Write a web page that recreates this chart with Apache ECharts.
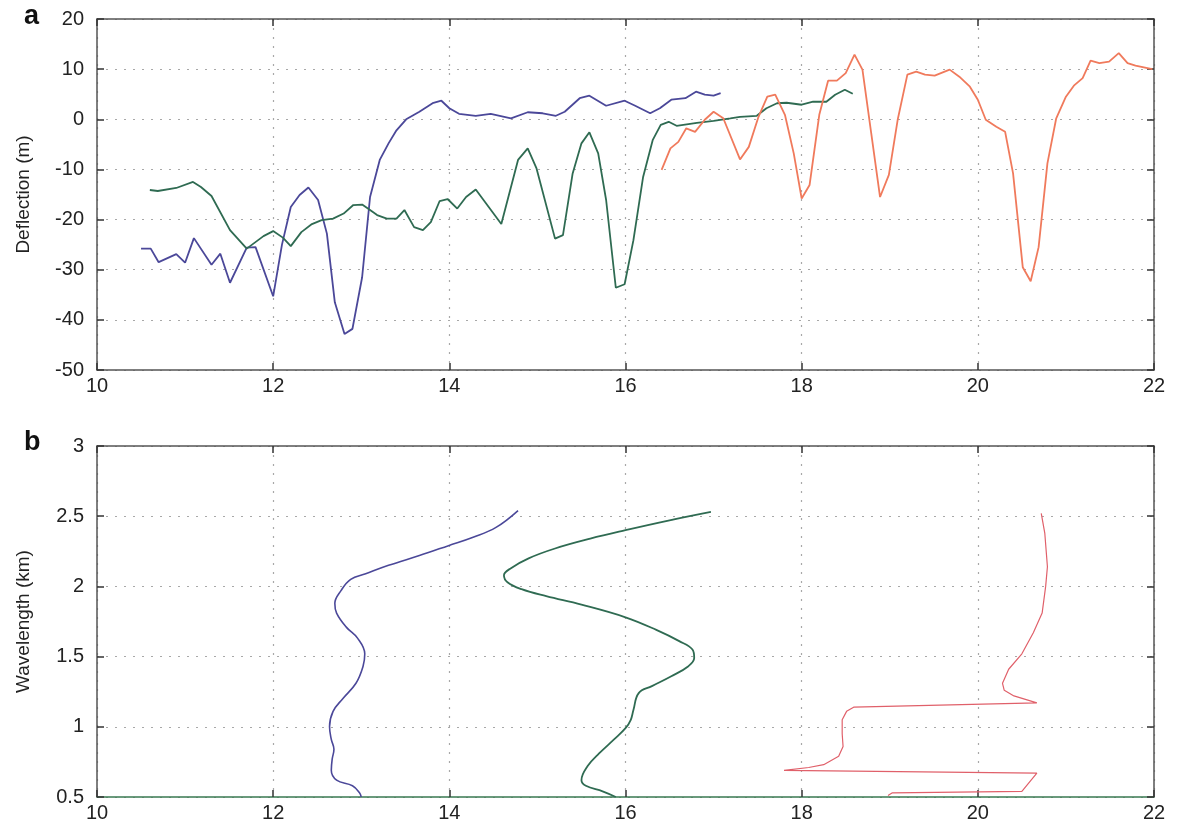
<!DOCTYPE html>
<html>
<head>
<meta charset="utf-8">
<script src="https://cdn.jsdelivr.net/npm/echarts@6/dist/echarts.min.js"></script>
<style>
  html, body { margin: 0; padding: 0; background: #fff; }
  #chart { width: 1178px; height: 829px; }
</style>
</head>
<body>
<div id="chart"></div>
<script>
// panel a: deflection (m) against distance, [x, y]
const deflBlue = [
  [10.50, -25.8], [10.61, -25.8], [10.70, -28.5], [10.90, -26.9], [11.00, -28.6], [11.10, -23.7],
  [11.30, -29.0], [11.40, -26.8], [11.51, -32.6], [11.70, -25.6], [11.80, -25.5], [12.00, -35.3],
  [12.10, -25.0], [12.20, -17.5], [12.30, -15.1], [12.40, -13.6], [12.51, -16.1], [12.61, -22.8],
  [12.70, -36.5], [12.81, -42.8], [12.90, -41.8], [13.01, -31.5], [13.10, -15.5], [13.21, -8.1],
  [13.31, -4.8], [13.40, -2.2], [13.51, 0.0], [13.66, 1.5], [13.81, 3.2], [13.91, 3.7],
  [14.00, 2.2], [14.11, 1.1], [14.30, 0.7], [14.47, 1.1], [14.70, 0.2], [14.89, 1.4],
  [15.06, 1.2], [15.21, 0.7], [15.31, 1.5], [15.48, 4.2], [15.59, 4.7], [15.78, 2.7],
  [15.99, 3.7], [16.11, 2.7], [16.28, 1.2], [16.39, 2.2], [16.52, 3.9], [16.68, 4.2],
  [16.80, 5.5], [16.90, 4.9], [17.00, 4.7], [17.08, 5.2]
];
const deflGreen = [
  [10.60, -14.1], [10.69, -14.3], [10.90, -13.7], [11.09, -12.5], [11.18, -13.5], [11.30, -15.3],
  [11.51, -22.1], [11.70, -25.8], [11.89, -23.3], [12.00, -22.3], [12.11, -23.6], [12.20, -25.3],
  [12.32, -22.5], [12.44, -20.9], [12.55, -20.1], [12.68, -19.8], [12.80, -18.8], [12.91, -17.1],
  [13.01, -17.0], [13.10, -18.1], [13.18, -19.1], [13.29, -19.8], [13.40, -19.8], [13.49, -18.1],
  [13.60, -21.5], [13.70, -22.1], [13.79, -20.5], [13.89, -16.3], [13.98, -15.9], [14.09, -17.8],
  [14.19, -15.5], [14.30, -14.0], [14.59, -20.9], [14.78, -8.1], [14.89, -5.8], [14.99, -9.8],
  [15.20, -23.8], [15.29, -23.1], [15.40, -10.8], [15.50, -4.8], [15.59, -2.6], [15.69, -6.8],
  [15.78, -16.1], [15.89, -33.6], [15.99, -32.9], [16.09, -24.1], [16.20, -11.5], [16.31, -4.1],
  [16.40, -1.1], [16.49, -0.5], [16.58, -1.3], [16.81, -0.7], [17.00, -0.3], [17.19, 0.2],
  [17.30, 0.5], [17.49, 0.7], [17.60, 2.2], [17.72, 3.2], [17.83, 3.3], [18.00, 2.9],
  [18.13, 3.5], [18.28, 3.5], [18.38, 4.9], [18.49, 5.9], [18.58, 5.1]
];
const deflRed = [
  [16.41, -10.1], [16.51, -5.8], [16.60, -4.5], [16.69, -1.8], [16.79, -2.5], [16.90, -0.1],
  [17.00, 1.5], [17.11, 0.2], [17.30, -8.0], [17.40, -5.5], [17.51, 0.5], [17.61, 4.5],
  [17.70, 4.9], [17.81, 0.9], [17.91, -6.8], [18.00, -15.8], [18.09, -13.1], [18.20, 0.9],
  [18.30, 7.7], [18.40, 7.7], [18.50, 9.2], [18.60, 12.9], [18.69, 9.9], [18.79, -2.8],
  [18.89, -15.5], [18.99, -11.1], [19.09, -0.1], [19.20, 8.9], [19.30, 9.5], [19.40, 8.9],
  [19.51, 8.7], [19.68, 9.9], [19.79, 8.5], [19.91, 6.5], [20.00, 3.9], [20.09, -0.1],
  [20.21, -1.5], [20.31, -2.5], [20.40, -10.8], [20.51, -29.5], [20.60, -32.3], [20.69, -25.5],
  [20.79, -8.8], [20.89, 0.2], [21.00, 4.5], [21.09, 6.7], [21.19, 8.2], [21.28, 11.7],
  [21.38, 11.2], [21.49, 11.5], [21.60, 13.2], [21.70, 11.2], [21.79, 10.7], [21.98, 10.0]
];

// panel b: wavelength (km) against distance, [x, y]
const waveBlue = [
  [14.78, 2.54], [14.53, 2.42], [14.27, 2.35], [13.99, 2.29], [13.66, 2.22], [13.31, 2.15],
  [13.05, 2.09], [12.88, 2.05], [12.77, 1.97], [12.70, 1.88], [12.72, 1.81], [12.83, 1.71],
  [12.96, 1.63], [13.04, 1.52], [13.02, 1.43], [12.94, 1.31], [12.79, 1.20], [12.68, 1.11],
  [12.64, 1.00], [12.66, 0.91], [12.69, 0.84], [12.67, 0.77], [12.66, 0.69], [12.72, 0.62],
  [12.90, 0.58], [12.98, 0.53], [13.00, 0.50]
];
const waveGreen = [
  [16.97, 2.53], [16.50, 2.47], [16.00, 2.40], [15.60, 2.34], [15.20, 2.27], [14.90, 2.20],
  [14.70, 2.13], [14.62, 2.08], [14.66, 2.03], [14.82, 1.98], [15.10, 1.93], [15.50, 1.87],
  [16.00, 1.78], [16.35, 1.69], [16.61, 1.61], [16.76, 1.55], [16.78, 1.49], [16.71, 1.43],
  [16.52, 1.36], [16.30, 1.29], [16.15, 1.24], [16.09, 1.12], [16.06, 1.05], [16.00, 0.99],
  [15.87, 0.91], [15.70, 0.81], [15.57, 0.72], [15.50, 0.62], [15.55, 0.58], [15.74, 0.54],
  [15.89, 0.50]
];
const waveRed = [
  [20.72, 2.52], [20.76, 2.38], [20.79, 2.14], [20.77, 2.00], [20.73, 1.81], [20.63, 1.67],
  [20.50, 1.52], [20.35, 1.41], [20.28, 1.31], [20.30, 1.26], [20.41, 1.22], [20.67, 1.17],
  [18.59, 1.14], [18.51, 1.11], [18.46, 1.05], [18.46, 0.95], [18.47, 0.86], [18.42, 0.79],
  [18.25, 0.73], [18.08, 0.71], [17.80, 0.69], [20.67, 0.67], [20.50, 0.54], [19.03, 0.53],
  [18.98, 0.51]
];

const FONT = "'Liberation Sans', Arial, sans-serif";
const chart = echarts.init(document.getElementById("chart"), null, { renderer: "canvas" });

const gridDots = { show: true, lineStyle: { color: "#a8a8a8", type: [2, 7], width: 1.2 } };
const labelStyle = { color: "#222", fontSize: 20, fontFamily: FONT };

function xAxes(gridIndex, baseColor) {
  return [
    {
      type: "value", gridIndex, min: 10, max: 22, interval: 2, position: "bottom",
      axisLine: { show: true, onZero: false, lineStyle: { color: baseColor, width: 1.5 } },
      axisTick: { show: true, inside: true, length: 7, lineStyle: { color: "#333", width: 1.5 } },
      axisLabel: { ...labelStyle, margin: 6 },
      splitLine: gridDots
    },
    {
      type: "value", gridIndex, min: 10, max: 22, interval: 2, position: "top",
      axisLine: { show: true, onZero: false, lineStyle: { color: "#555", width: 1.5 } },
      axisTick: { show: true, inside: true, length: 7, lineStyle: { color: "#333", width: 1.5 } },
      axisLabel: { show: false },
      splitLine: { show: false }
    }
  ];
}

function yAxes(gridIndex, min, max, interval, name, fmt) {
  return [
    {
      type: "value", gridIndex, min, max, interval, position: "left",
      name, nameLocation: "middle", nameGap: 64, nameRotate: 90,
      nameTextStyle: { color: "#222", fontSize: 19, fontFamily: FONT },
      axisLine: { show: true, onZero: false, lineStyle: { color: "#555", width: 1.5 } },
      axisTick: { show: true, inside: true, length: 7, lineStyle: { color: "#333", width: 1.5 } },
      axisLabel: { ...labelStyle, margin: 13, formatter: fmt },
      splitLine: gridDots
    },
    {
      type: "value", gridIndex, min, max, interval, position: "right",
      axisLine: { show: true, onZero: false, lineStyle: { color: "#555", width: 1.5 } },
      axisTick: { show: true, inside: true, length: 7, lineStyle: { color: "#333", width: 1.5 } },
      axisLabel: { show: false },
      splitLine: { show: false }
    }
  ];
}

function line(data, color, xi, yi, width, smooth) {
  return {
    type: "line", data, xAxisIndex: xi, yAxisIndex: yi,
    showSymbol: false, smooth, animation: false,
    lineStyle: { color, width }
  };
}

const option = {
  backgroundColor: "#fff",
  animation: false,
  textStyle: { fontFamily: FONT },
  title: [
    { text: "a", left: 19, top: -2, textStyle: { fontSize: 27, fontWeight: "bold", color: "#111", fontFamily: FONT } },
    { text: "b", left: 19, top: 424, textStyle: { fontSize: 27, fontWeight: "bold", color: "#111", fontFamily: FONT } }
  ],
  grid: [
    { left: 97, right: 24, top: 19, height: 351 },
    { left: 97, right: 24, top: 446, height: 351 }
  ],
  xAxis: [...xAxes(0, "#555"), ...xAxes(1, "#3a7a52")],
  yAxis: [
    ...yAxes(0, -50, 20, 10, "Deflection (m)"),
    ...yAxes(1, 0.5, 3, 0.5, "Wavelength (km)", v => String(+v.toFixed(1)))
  ],
  series: [
    line(deflBlue, "#4b4899", 0, 0, 1.8, false),
    line(deflGreen, "#2f6b52", 0, 0, 1.8, false),
    line(deflRed, "#f07a5c", 0, 0, 1.8, false),
    line(waveBlue, "#4b4899", 2, 2, 1.6, 0.4),
    line(waveGreen, "#2f6b52", 2, 2, 1.8, 0.4),
    line(waveRed, "#e0606a", 2, 2, 1.2, false)
  ]
};

chart.setOption(option);
</script>
</body>
</html>
